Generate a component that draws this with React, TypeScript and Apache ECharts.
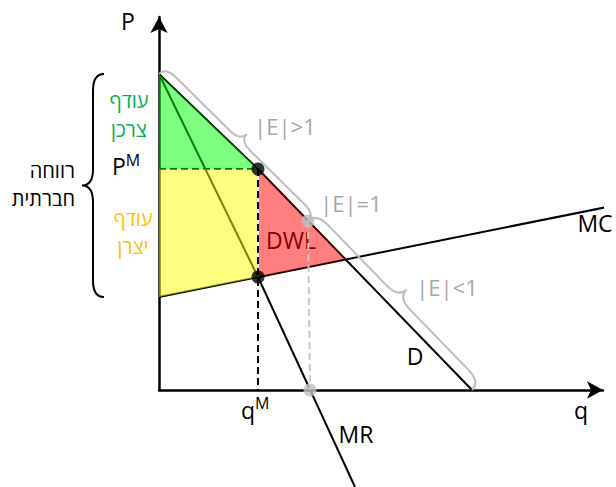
import React, { useEffect, useRef } from "react";
import * as echarts from "echarts";

// ---- data (q, P in chart units) ----
const demandQ = [0, 99, 313];
const demandP = [316, 221, 0];
const mrQ = [0, 99, 196];
const mrP = [316, 113, -97];
const mcQ = [0, 453];
const mcP = [93, 184];
const monoQ = 99; // q^M
const monoP = 221; // P^M
const mcAtMono = 113;
const unitQ = 149; // |E| = 1 on demand
const unitP = 169;
const mrZeroQ = 151;
const dwlQ = 186; // D ∩ MC
const dwlP = 131;
const X_MAX = 444;
const Y_MAX = 373;

const FONT = "'Open Sans', 'Liberation Sans', 'DejaVu Sans', sans-serif";

const zip = (a: number[], b: number[]) => a.map((v, i) => [v, b[i]]);

function polySeries(qs: number[], ps: number[], color: string) {
  return {
    type: "custom",
    z: 3,
    silent: true,
    clip: false,
    data: [[qs[0], ps[0]]],
    renderItem: (_params: any, api: any) => ({
      type: "polygon",
      shape: { points: qs.map((q, i) => api.coord([q, ps[i]])) },
      style: { fill: color, stroke: "none" },
    }),
  };
}

function bracePath(p0: number[], p1: number[], h: number, side: number) {
  const dx = p1[0] - p0[0];
  const dy = p1[1] - p0[1];
  const L = Math.hypot(dx, dy);
  const ax = dx / L;
  const ay = dy / L;
  const nx = side * ay;
  const ny = -side * ax;
  const r = Math.min(h * 1.5, L / 4);
  const m = L / 2;
  const T = (u: number, v: number) =>
    `${(p0[0] + u * ax + v * nx).toFixed(1)} ${(p0[1] + u * ay + v * ny).toFixed(1)}`;
  return `M ${T(0, 0)} Q ${T(0, h)} ${T(r, h)} L ${T(m - r, h)} Q ${T(m, h)} ${T(m, 2 * h)} Q ${T(m, h)} ${T(m + r, h)} L ${T(L - r, h)} Q ${T(L, h)} ${T(L, 0)}`;
}

function txt(text: string, x: number, y: number, fill: string, fontSize: number, align = "center", z = 10) {
  return {
    type: "text",
    x,
    y,
    z,
    silent: true,
    style: {
      text,
      fill,
      fontSize,
      fontFamily: FONT,
      align,
      verticalAlign: "middle",
    },
  };
}

function supText(base: string, sup: string, x: number, y: number, lineH: number) {
  return {
    type: "text",
    x,
    y,
    z: 10,
    silent: true,
    style: {
      text: `{b|${base}}{s|${sup}}`,
      align: "left",
      verticalAlign: "middle",
      rich: {
        b: { fontSize: 23, fontFamily: FONT, fill: "#000", lineHeight: lineH },
        s: { fontSize: 16, fontFamily: FONT, fill: "#000", lineHeight: 16, verticalAlign: "top" },
      },
    },
  };
}

export default function App() {
  const ref = useRef<HTMLDivElement>(null);

  useEffect(() => {
    if (!ref.current) return;
    const chart = echarts.init(ref.current, undefined, { renderer: "svg" });

    const lineBase = {
      type: "line",
      symbol: "none",
      silent: true,
      clip: false,
      z: 2,
    };

    const axisCommon = {
      type: "value",
      axisTick: { show: false },
      axisLabel: { show: false },
      splitLine: { show: false },
      axisLine: {
        show: true,
        symbol: ["none", "arrow"],
        symbolSize: [13, 16],
        lineStyle: { color: "#000", width: 2.5 },
      },
    };

    chart.setOption({
      animation: false,
      grid: { left: 159, top: 17, width: X_MAX, height: Y_MAX },
      xAxis: { ...axisCommon, min: 0, max: X_MAX },
      yAxis: { ...axisCommon, min: 0, max: Y_MAX },
      series: [
        { ...lineBase, data: zip(demandQ, demandP), lineStyle: { color: "#000", width: 2 } },
        { ...lineBase, data: zip(mrQ, mrP), lineStyle: { color: "#000", width: 2 } },
        { ...lineBase, data: zip(mcQ, mcP), lineStyle: { color: "#000", width: 2 } },
        {
          ...lineBase,
          data: [[0, monoP], [monoQ, monoP]],
          lineStyle: { color: "#000", width: 2, type: [7, 4] },
        },
        polySeries([0, monoQ, 0], [demandP[0], monoP, monoP], "rgba(0,255,0,0.5)"),
        polySeries([0, monoQ, monoQ, 0], [monoP, monoP, mcAtMono, mcP[0]], "rgba(255,255,0,0.5)"),
        polySeries([monoQ, dwlQ, monoQ], [monoP, dwlP, mcAtMono], "rgba(255,0,0,0.5)"),
        {
          ...lineBase,
          z: 4,
          data: [[monoQ, monoP], [monoQ, mcAtMono]],
          lineStyle: { color: "#fff", width: 2 },
        },
        {
          ...lineBase,
          z: 5,
          data: [[monoQ, monoP], [monoQ, 0]],
          lineStyle: { color: "#000", width: 2, type: [7, 4] },
        },
        {
          ...lineBase,
          z: 4,
          data: [[unitQ, unitP], [mrZeroQ, 0]],
          lineStyle: { color: "#c8c8c8", width: 2, type: [7, 4] },
        },
        {
          type: "scatter",
          silent: true,
          z: 6,
          symbolSize: 13,
          itemStyle: { color: "#000" },
          data: [[monoQ, monoP], [monoQ, mcAtMono]],
        },
        {
          type: "scatter",
          silent: true,
          z: 6,
          symbolSize: 13,
          itemStyle: { color: "#bfbfbf" },
          data: [[unitQ, unitP], [mrZeroQ, 0]],
        },
      ],
    });

    const px = (q: number, p: number) => chart.convertToPixel({ gridIndex: 0 }, [q, p]) as number[];
    const dTop = px(demandQ[0], demandP[0]);
    const unitPt = px(unitQ, unitP);
    const dEnd = px(demandQ[demandQ.length - 1], demandP[demandP.length - 1]);
    const mcStart = px(mcQ[0], mcP[0]);

    echarts.graphic.registerShape("brace1", echarts.graphic.extendPath(bracePath(dTop, unitPt, 9.5, 1), {}) as any);
    echarts.graphic.registerShape("brace2", echarts.graphic.extendPath(bracePath(unitPt, dEnd, 11.5, 1), {}) as any);
    echarts.graphic.registerShape(
      "brace3",
      echarts.graphic.extendPath(bracePath([104, dTop[1]], [104, mcStart[1]], 11, -1), {}) as any
    );

    const gray = "#a6a6a6";
    chart.setOption({
      graphic: [
        { type: "brace1", x: 0, y: 0, z: 7, silent: true, style: { stroke: "#bdbdbd", lineWidth: 2, fill: "none" } },
        { type: "brace2", x: 0, y: 0, z: 7, silent: true, style: { stroke: "#bdbdbd", lineWidth: 2, fill: "none" } },
        { type: "brace3", x: 0, y: 0, z: 7, silent: true, style: { stroke: "#000", lineWidth: 2, fill: "none" } },
        txt("P", 128, 21, "#000", 23),
        supText("P", "M", 112, 166, 28),
        supText("q", "M", 241, 410, 30),
        txt("q", 581, 410, "#000", 23),
        txt("MR", 356, 434, "#000", 23),
        txt("MC", 595, 223, "#000", 23),
        txt("D", 415, 356, "#000", 23),
        txt("DWL", 291, 240, "#000", 23, "center", 2),
        txt("|E|>1", 285, 126, gray, 22),
        txt("|E|=1", 351, 203, gray, 22),
        txt("|E|<1", 447, 287, gray, 22),
        txt("עודף", 129, 100, "#00b050", 20),
        txt("צרכן", 129, 129, "#00b050", 20),
        txt("עודף", 133, 218, "#ffc000", 20),
        txt("יצרן", 133, 246, "#ffc000", 20),
        txt("רווחה", 75, 170, "#000", 20, "right"),
        txt("חברתית", 75, 198, "#000", 20, "right"),
      ],
    });

    return () => chart.dispose();
  }, []);

  return (
    <div
      ref={ref}
      style={{ position: "absolute", left: 0, top: 0, width: 616, height: 487, background: "#fff" }}
    />
  );
}
